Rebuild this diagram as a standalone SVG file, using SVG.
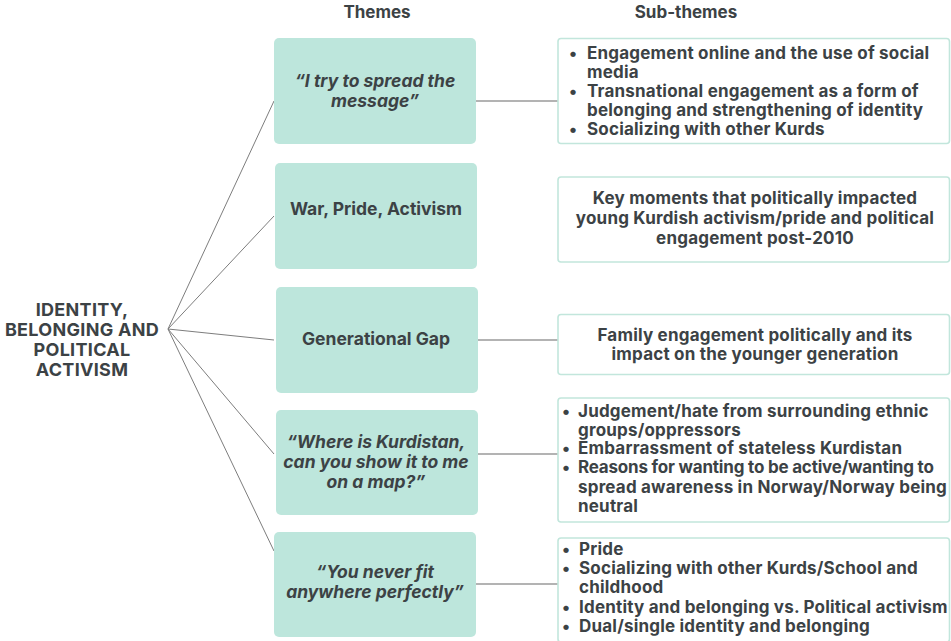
<svg xmlns="http://www.w3.org/2000/svg" width="951" height="641" viewBox="0 0 951 641">
  <style>
    text { font-family: Inter, "Liberation Sans", sans-serif; font-weight: 700; fill: #3c4245; }
    .hdr { font-size: 17px; text-anchor: middle; }
    .root { font-size: 18px; letter-spacing: 0.3px; text-anchor: middle; }
    .theme { font-size: 17.5px; text-anchor: middle; }
    .quote { font-style: italic; }
    .sub { font-size: 17px; letter-spacing: 0.2px; }
    .tight { letter-spacing: -0.2px; }
    .mid { text-anchor: middle; }
    .tbox { fill: #bde6dc; }
    .sbox { fill: #ffffff; stroke: #c2e6dc; stroke-width: 1.6; }
    .fan { stroke: #7d7d7d; stroke-width: 1; fill: none; }
    .link { stroke: #9a9a9a; stroke-width: 1.5; fill: none; }
  </style>

  <rect width="951" height="641" fill="#ffffff"/>

  <!-- column headings -->
  <text class="hdr" x="377" y="18">Themes</text>
  <text class="hdr" x="686" y="18">Sub-themes</text>

  <!-- connectors -->
  <g id="connectors">
    <line class="fan" x1="168" y1="329" x2="274" y2="101"/>
    <line class="fan" x1="168" y1="329" x2="274" y2="216"/>
    <line class="fan" x1="168" y1="329" x2="274" y2="340"/>
    <line class="fan" x1="168" y1="329" x2="274" y2="454"/>
    <line class="fan" x1="168" y1="329" x2="274" y2="551"/>
    <line class="link" x1="476" y1="101" x2="558" y2="101"/>
    <line class="link" x1="476" y1="340" x2="558" y2="340"/>
    <line class="link" x1="476" y1="454" x2="558" y2="454"/>
    <line class="link" x1="476" y1="584" x2="558" y2="584"/>
  </g>

  <!-- root concept -->
  <g id="root">
    <text class="root" x="82" y="315.5">IDENTITY,</text>
    <text class="root" x="82" y="335.5">BELONGING AND</text>
    <text class="root" x="82" y="355.5">POLITICAL</text>
    <text class="root" x="82" y="375.5">ACTIVISM</text>
  </g>

  <!-- themes -->
  <g id="theme-spread">
    <rect class="tbox" x="274" y="38" width="202" height="106" rx="5"/>
    <text class="theme quote" x="375" y="87">“I try to spread the</text>
    <text class="theme quote" x="375" y="107">message”</text>
  </g>
  <g id="theme-war">
    <rect class="tbox" x="275" y="163" width="202" height="106" rx="5"/>
    <text class="theme" x="376" y="215">War, Pride, Activism</text>
  </g>
  <g id="theme-gap">
    <rect class="tbox" x="276" y="287" width="202" height="106" rx="5"/>
    <text class="theme" x="376" y="345">Generational Gap</text>
  </g>
  <g id="theme-map">
    <rect class="tbox" x="276" y="410" width="202" height="105" rx="5"/>
    <text class="theme quote" x="376" y="448">“Where is Kurdistan,</text>
    <text class="theme quote" x="376" y="468">can you show it to me</text>
    <text class="theme quote" x="376" y="488">on a map?”</text>
  </g>
  <g id="theme-fit">
    <rect class="tbox" x="274" y="532" width="202" height="105" rx="5"/>
    <text class="theme quote" x="375" y="578">“You never fit</text>
    <text class="theme quote" x="375" y="598">anywhere perfectly”</text>
  </g>

  <!-- sub-themes -->
  <g id="sub-spread">
    <rect class="sbox" x="558" y="38.5" width="391.5" height="105" rx="3"/>
    <text class="sub" x="569" y="58.5">•</text>
    <text class="sub" x="587" y="58.5">Engagement online and the use of social</text>
    <text class="sub" x="587" y="77.5">media</text>
    <text class="sub" x="569" y="96.5">•</text>
    <text class="sub" x="587" y="96.5">Transnational engagement as a form of</text>
    <text class="sub" x="587" y="115.5">belonging and strengthening of identity</text>
    <text class="sub" x="569" y="134.5">•</text>
    <text class="sub" x="587" y="134.5">Socializing with other Kurds</text>
  </g>
  <g id="sub-war">
    <rect class="sbox" x="558" y="177" width="391.5" height="85" rx="3"/>
    <text class="sub mid" x="755" y="204">Key moments that politically impacted</text>
    <text class="sub mid" x="755" y="224">young Kurdish activism/pride and political</text>
    <text class="sub mid" x="755" y="244">engagement post-2010</text>
  </g>
  <g id="sub-gap">
    <rect class="sbox" x="558" y="314.5" width="391.5" height="60" rx="3"/>
    <text class="sub mid" x="755" y="340.5">Family engagement politically and its</text>
    <text class="sub mid" x="755" y="360">impact on the younger generation</text>
  </g>
  <g id="sub-map">
    <rect class="sbox" x="558" y="398" width="391.5" height="124" rx="3"/>
    <text class="sub" x="562" y="416.5">•</text>
    <text class="sub" x="578" y="416.5">Judgement/hate from surrounding ethnic</text>
    <text class="sub" x="578" y="435.5">groups/oppressors</text>
    <text class="sub" x="562" y="454">•</text>
    <text class="sub" x="578" y="454">Embarrassment of stateless Kurdistan</text>
    <text class="sub" x="562" y="473">•</text>
    <text class="sub tight" x="578" y="473">Reasons for wanting to be active/wanting to</text>
    <text class="sub" x="578" y="492.5">spread awareness in Norway/Norway being</text>
    <text class="sub" x="578" y="511.5">neutral</text>
  </g>
  <g id="sub-fit">
    <rect class="sbox" x="558" y="538" width="391.5" height="104" rx="3"/>
    <text class="sub" x="562" y="554.5">•</text>
    <text class="sub" x="579" y="554.5">Pride</text>
    <text class="sub" x="562" y="573.5">•</text>
    <text class="sub" x="579" y="573.5">Socializing with other Kurds/School and</text>
    <text class="sub" x="579" y="593">childhood</text>
    <text class="sub" x="562" y="613">•</text>
    <text class="sub" x="579" y="613">Identity and belonging vs. Political activism</text>
    <text class="sub" x="562" y="632">•</text>
    <text class="sub" x="579" y="632">Dual/single identity and belonging</text>
  </g>
</svg>
